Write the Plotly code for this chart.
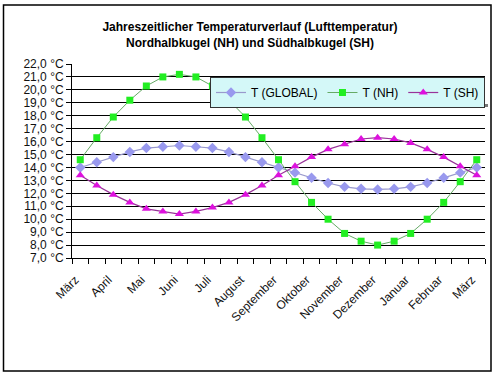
import plotly.graph_objects as go

# Half-monthly steps from März to März (25 points)
points = list(range(25))
month_labels = ["März", "April", "Mai", "Juni", "Juli", "August", "September",
                "Oktober", "November", "Dezember", "Januar", "Februar", "März"]
label_positions = list(range(0, 25, 2))

t_global = [14.0, 14.4, 14.8, 15.2, 15.5, 15.6, 15.7, 15.6, 15.5, 15.2, 14.8, 14.4, 14.0,
            13.6, 13.2, 12.8, 12.5, 12.35, 12.3, 12.35, 12.5, 12.8, 13.2, 13.6, 14.0]
t_nh = [14.6, 16.3, 17.9, 19.2, 20.3, 21.0, 21.2, 21.0, 20.3, 19.2, 17.9, 16.3, 14.6,
        12.9, 11.3, 10.0, 8.9, 8.3, 8.0, 8.3, 8.9, 10.0, 11.3, 12.9, 14.6]
t_sh = [13.4, 12.6, 11.9, 11.3, 10.8, 10.6, 10.4, 10.6, 10.9, 11.3, 11.9, 12.6, 13.4,
        14.1, 14.8, 15.4, 15.8, 16.2, 16.3, 16.2, 15.9, 15.4, 14.8, 14.1, 13.4]

FONT = "Liberation Sans, Arial, sans-serif"

fig = go.Figure()
fig.add_trace(go.Scatter(
    x=points, y=t_global, name="T (GLOBAL)", mode="lines+markers",
    line=dict(color="#9999cc", width=1.2),
    marker=dict(symbol="diamond", size=8, color="#9999ee", line=dict(width=0))))
fig.add_trace(go.Scatter(
    x=points, y=t_nh, name="T (NH)", mode="lines+markers",
    line=dict(color="#66aa66", width=1),
    marker=dict(symbol="square", size=7, color="#22ee22", line=dict(width=0))))
fig.add_trace(go.Scatter(
    x=points, y=t_sh, name="T (SH)", mode="lines+markers",
    line=dict(color="#993399", width=1.2),
    marker=dict(symbol="triangle-up", size=8, color="#dd11dd", line=dict(width=0))))

# plot area in pixels: left 72, right 485, top 64, bottom 258
PL, PR, PT, PB = 72, 485, 64, 258
def px(x):
    return (x - PL) / (PR - PL)
def py(y):
    return (PB - y) / (PB - PT)

shapes = [
    # outer chart frame
    dict(type="rect", xref="paper", yref="paper",
         x0=px(3.5), x1=px(491), y0=py(371), y1=py(5),
         line=dict(color="black", width=1.5), fillcolor="rgba(0,0,0,0)"),
    # legend shadow
    dict(type="rect", xref="paper", yref="paper",
         x0=px(214), x1=px(488), y0=py(107), y1=py(104),
         line=dict(width=0), fillcolor="#777777"),
]

fig.update_layout(
    width=500, height=375,
    margin=dict(l=PL, r=500 - PR, t=PT, b=375 - PB, autoexpand=False),
    paper_bgcolor="white", plot_bgcolor="white",
    separators=",.",
    font=dict(family=FONT, size=12, color="black"),
    title=dict(
        text="Jahreszeitlicher Temperaturverlauf (Lufttemperatur)<br>Nordhalbkugel (NH) und Südhalbkugel (SH)",
        x=0.5, xanchor="center", xref="container",
        y=1 - 31 / 375, yanchor="middle", yref="container",
        font=dict(family=FONT, size=12, weight="bold", color="black")),
    showlegend=True,
    legend=dict(
        orientation="h", x=1.0, y=py(77), xanchor="right", yanchor="top",
        bgcolor="#d4f8f8", bordercolor="#333333", borderwidth=1,
        font=dict(family=FONT, size=12, color="black"),
        itemwidth=30, tracegroupgap=0),
    shapes=shapes,
)

fig.update_xaxes(
    range=[-0.5, 24.5], tickmode="array",
    tickvals=[p - 0.3 for p in label_positions], ticktext=month_labels,
    tickangle=-45, ticks="", ticklabelstandoff=9, showgrid=False, zeroline=False,
    showline=True, linecolor="black", linewidth=1,
    tickfont=dict(family=FONT, size=12, color="#111111"),
    minor=dict(tickmode="array", tickvals=[i - 0.5 for i in range(26)],
               ticks="outside", ticklen=5, tickcolor="black", tickwidth=1, showgrid=False),
)
fig.update_yaxes(
    range=[7, 22], dtick=1, tick0=7, tickformat=".1f", ticksuffix=" °C",
    ticks="outside", ticklen=5, tickcolor="black",
    showgrid=True, gridcolor="black", gridwidth=1, zeroline=False,
    showline=True, linecolor="black", linewidth=1,
    tickfont=dict(family=FONT, size=12, color="#111111"),
)

fig.write_html("out.html", config={"displayModeBar": False},
               post_script="document.body.style.margin='0';")
